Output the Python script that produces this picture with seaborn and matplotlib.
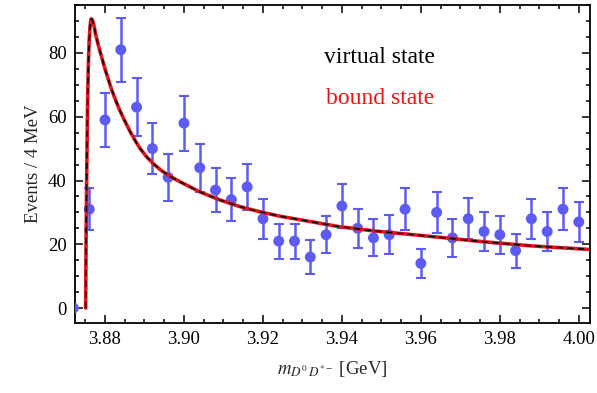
import matplotlib
matplotlib.use('Agg')
import matplotlib.pyplot as plt
from matplotlib.ticker import MultipleLocator
import seaborn as sns
import pandas as pd

# measured spectrum, 4 MeV bins
mass = [3.872, 3.876, 3.880, 3.884, 3.888, 3.892, 3.896, 3.900, 3.904, 3.908, 3.912,
        3.916, 3.920, 3.924, 3.928, 3.932, 3.936, 3.940, 3.944, 3.948, 3.952, 3.956,
        3.960, 3.964, 3.968, 3.972, 3.976, 3.980, 3.984, 3.988, 3.992, 3.996, 4.000]
events = [0, 31, 59, 81, 63, 50, 41, 58, 44, 37, 34, 38, 28, 21, 21, 16, 23, 32, 25,
          22, 23, 31, 14, 30, 22, 28, 24, 23, 18, 28, 24, 31, 27]
errors = [0, 6.5, 8.5, 10, 9, 8, 7.4, 8.6, 7.5, 6.8, 6.8, 7.1, 6.3, 5.5, 5.5, 5.2, 5.8,
          7.0, 6.2, 5.8, 6.1, 6.5, 4.6, 6.4, 5.9, 6.4, 6.0, 6.0, 5.3, 6.2, 6.0, 6.6, 6.4]

# fitted line shape (virtual state and bound state coincide)
curve_m = [3.8751, 3.8752, 3.8754, 3.8756, 3.8758, 3.8760, 3.8762, 3.8764, 3.8765,
           3.8768, 3.8772, 3.8776, 3.8784, 3.8792, 3.8800, 3.8809, 3.8817, 3.8826,
           3.8835, 3.8845, 3.8854, 3.8863, 3.8876, 3.8889, 3.8905, 3.8922, 3.8943,
           3.8965, 3.8990, 3.9041, 3.9091, 3.9142, 3.9192, 3.9243, 3.9294, 3.9344,
           3.9395, 3.9480, 3.9589, 3.9670, 3.9758, 3.9880, 4.0023]
curve_y = [0, 20, 45, 65, 77, 84, 88, 90.3, 90.7, 90.4, 88.6, 86.0, 82.0, 78.5, 75.0,
           71.5, 68.4, 65.5, 62.7, 60.0, 57.7, 55.5, 52.6, 50.0, 47.5, 45.3, 43.1,
           41.3, 39.6, 36.4, 33.9, 31.8, 30.2, 28.8, 27.7, 26.6, 25.5, 24.2, 22.9,
           21.9, 20.8, 19.5, 18.4]

df = pd.DataFrame({'mass': mass, 'events': events, 'err': errors})
fit = pd.DataFrame({'mass': curve_m, 'events': curve_y})

sns.set_style('ticks')
plt.rcParams['font.family'] = ['Liberation Serif', 'DejaVu Serif']
plt.rcParams['mathtext.fontset'] = 'stix'

fig = plt.figure(figsize=(5.97, 3.93), dpi=100)
ax = fig.add_axes([0.1256, 0.178, 0.8624, 0.809])

point_color = '#5c5cf4'
ax.errorbar(df['mass'], df['events'], yerr=df['err'], fmt='none', ecolor=point_color,
            elinewidth=1.8, capsize=3.5, capthick=1.5, zorder=2)
sns.scatterplot(data=df, x='mass', y='events', color=point_color, s=62,
                edgecolor='none', ax=ax, zorder=3)

sns.lineplot(data=fit, x='mass', y='events', sort=False, estimator=None,
             color='#e0141c', linewidth=2.6, ax=ax, zorder=4)
sns.lineplot(data=fit, x='mass', y='events', sort=False, estimator=None,
             color='black', linewidth=1.1, linestyle=(0, (4, 3)), ax=ax, zorder=5)

ax.text(3.9496, 78.6, 'virtual state', color='black', fontsize=17,
        ha='center', va='center')
ax.text(3.9496, 65.7, 'bound state', color='#ee1111', fontsize=17,
        ha='center', va='center')

ax.set_xlim(3.8724, 4.0028)
ax.set_ylim(-4.7, 95)
ax.xaxis.set_major_locator(MultipleLocator(0.02))
ax.xaxis.set_minor_locator(MultipleLocator(0.005))
ax.yaxis.set_major_locator(MultipleLocator(20))
ax.yaxis.set_minor_locator(MultipleLocator(5))
ax.xaxis.set_major_formatter(matplotlib.ticker.FormatStrFormatter('%.2f'))

ax.tick_params(which='both', direction='in', top=True, right=True, labelsize=13.5,
               colors='black', width=1.1)
ax.tick_params(which='major', length=6, pad=6)
ax.tick_params(which='minor', length=3)
for s in ax.spines.values():
    s.set_linewidth(1.3)
    s.set_color('black')

ax.set_xlabel(r'$m_{D^0\,D^{*-}}$ [GeV]', fontsize=13.5, labelpad=8)
ax.set_ylabel('Events / 4 MeV', fontsize=13.5, labelpad=4)

fig.savefig('out.png', dpi=100)
